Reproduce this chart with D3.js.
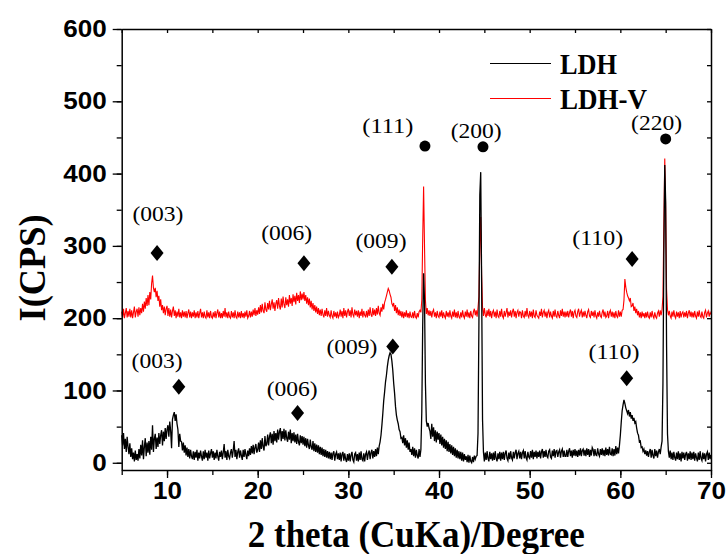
<!DOCTYPE html>
<html>
<head>
<meta charset="utf-8">
<script src="https://cdn.jsdelivr.net/npm/d3@7/dist/d3.min.js"></script>
<style>
  body { margin: 0; background: #fff; }
  .tick text { font-family: "Liberation Sans", Arial, sans-serif; font-weight: bold; font-size: 24px; fill: #000; }
  .serif { font-family: "Liberation Serif", "Times New Roman", serif; fill: #000; }
</style>
</head>
<body>
<div id="chart"></div>
<script>

// 2 theta from 5 to 70 deg, one value every 0.1 deg (one row = one degree)
var thetaStart = 5, thetaStep = 0.1;

var ldh = [
  38,24,41,19,33,15,36,22,12,27,
  8,20,5,14,2,17,4,12,3,19,
  6,25,10,31,5,22,34,9,28,14,
  30,11,36,18,52,15,33,40,19,35,
  22,41,26,38,45,24,43,30,48,33,
  46,52,36,57,44,20,60,66,70,58,
  67,54,46,22,40,30,29,17,28,14,
  24,10,21,8,19,6,18,9,5,16,
  4,15,7,18,3,14,6,17,9,3,
  16,5,18,7,14,3,17,6,13,19,
  7,16,4,14,6,18,9,3,15,8,
  17,5,14,26,7,16,4,18,9,6,
  14,19,7,17,30,8,18,5,15,20,
  7,17,10,4,18,8,19,11,5,17,
  9,20,11,23,13,25,12,21,26,14,
  18,28,15,31,19,34,22,17,37,23,
  26,39,24,36,42,27,40,25,44,30,
  41,28,46,32,43,48,30,44,33,47,
  31,45,34,29,43,32,46,27,41,30,
  42,28,39,26,40,29,24,38,27,37,
  25,36,23,34,21,33,24,19,32,22,
  18,30,16,27,15,25,14,24,12,22,
  11,21,9,19,8,18,7,16,6,15,
  5,14,4,13,16,3,12,15,5,13,
  4,14,2,12,15,3,13,5,1,12,
  3,13,2,11,15,4,1,12,14,3,
  12,2,14,4,16,5,3,13,2,12,
  15,4,13,17,5,14,18,6,16,8,
  19,9,21,12,23,29,38,52,68,86,
  98,112,121,133,142,148,152,150,141,128,
  110,96,78,66,59,54,46,43,34,35,
  27,38,24,34,21,31,18,28,15,19,
  11,22,9,20,7,18,10,6,19,8,
  18,70,190,262,225,110,58,50,55,48,
  44,33,54,36,49,30,45,28,43,32,
  41,26,39,24,36,21,33,19,31,16,
  29,15,26,13,24,11,22,9,20,7,
  18,6,16,5,15,3,14,2,12,4,
  9,1,11,0,10,2,0,8,1,10,
  5,9,10,40,190,370,402,250,60,15,
  2,14,4,16,6,2,15,5,13,3,
  14,4,16,6,2,13,5,15,3,14,
  5,15,4,13,17,6,3,14,5,16,
  7,4,15,6,14,18,5,13,16,6,
  15,5,14,17,6,16,7,4,15,8,
  6,16,7,18,5,15,8,17,6,15,
  8,17,6,15,19,7,16,8,18,9,
  7,16,18,8,6,17,9,19,7,16,
  17,8,15,18,7,16,19,8,17,9,
  9,18,8,16,20,9,17,7,18,10,
  19,9,17,8,18,10,20,9,17,19,
  10,18,9,20,11,19,8,18,10,21,
  18,9,19,11,10,20,12,9,19,11,
  20,10,18,9,21,11,19,10,22,12,
  11,20,9,19,10,23,12,21,13,24,
  38,56,72,80,87,82,76,72,68,73,
  64,70,61,66,58,62,55,57,48,41,
  38,29,30,21,22,16,19,12,17,10,
  16,8,15,19,7,18,10,6,19,9,
  17,7,15,19,12,22,30,110,290,412,
  360,160,40,16,7,17,5,14,4,15,
  7,3,14,5,16,4,13,2,15,6,
  14,4,12,15,3,13,5,16,4,14,
  5,15,3,13,7,2,14,4,16,6,
  3,14,5,13,2,12,15,4,14,5,
  11
];

var ldhV = [
  209,201,213,200,207,214,201,210,202,213,
  201,211,200,208,216,201,209,213,202,215,
  204,214,207,220,209,223,213,228,217,232,
  218,236,226,248,259,242,236,242,229,238,
  224,231,216,226,211,218,207,216,204,213,
  217,203,214,202,212,201,210,216,203,211,
  200,209,202,213,201,208,200,211,202,209,
  201,210,200,207,212,201,209,200,208,202,
  211,200,208,201,210,200,207,213,201,208,
  200,209,202,200,211,201,208,200,210,202,
  200,208,201,210,200,207,212,201,209,200,
  207,200,210,202,214,201,208,200,209,202,
  200,210,201,208,200,211,202,200,209,201,
  208,200,210,201,207,200,209,202,211,200,
  203,210,201,209,202,212,204,214,203,211,
  205,215,206,218,208,220,210,207,222,212,
  209,221,212,224,211,219,226,213,222,210,
  220,225,213,228,217,212,227,215,230,219,
  214,229,218,226,216,232,220,228,217,233,
  222,231,219,235,224,232,221,237,225,234,
  226,236,224,232,220,229,218,227,215,224,
  212,221,210,218,208,216,206,214,204,212,
  203,213,205,201,211,203,214,202,210,204,
  201,211,203,200,210,202,208,200,209,201,
  204,212,202,210,200,214,203,211,201,209,
  213,203,211,201,215,205,202,212,204,210,
  202,211,200,209,203,213,201,210,204,202,
  210,201,212,203,215,205,202,214,204,212,
  203,214,205,217,207,204,215,209,220,212,
  222,226,231,236,241,238,233,229,220,217,
  221,210,218,207,215,204,212,203,210,201,
  209,200,208,202,211,201,207,200,209,202,
  201,208,200,210,202,200,207,201,209,211,
  208,225,310,382,300,225,206,214,204,211,
  203,210,201,209,212,202,208,200,210,203,
  201,209,202,211,200,208,203,200,210,202,
  208,201,211,203,200,209,202,212,201,208,
  200,210,202,200,208,201,211,203,200,209,
  202,212,201,208,200,210,203,201,209,213,
  204,211,202,214,230,300,340,260,215,203,
  214,205,201,211,203,213,202,210,200,208,
  211,202,209,200,212,203,201,210,202,213,
  203,200,210,202,208,214,201,209,203,211,
  201,209,213,202,210,200,208,211,202,209,
  208,200,211,203,201,210,202,214,204,201,
  210,202,209,200,212,203,201,211,204,202,
  200,209,203,213,201,208,211,202,209,200,
  208,211,201,209,203,200,210,202,212,203,
  201,210,204,200,211,203,213,202,209,201,
  209,202,210,201,208,212,202,210,200,208,
  211,203,201,209,213,202,208,211,201,209,
  202,210,204,200,209,212,203,201,210,203,
  209,201,211,203,200,208,202,210,203,201,
  208,212,202,209,201,203,210,200,208,211,
  202,209,201,208,200,210,203,201,211,202,
  209,202,211,212,225,254,243,236,231,228,
  224,228,216,217,221,210,216,207,213,204,
  210,201,208,200,209,202,207,200,208,201,
  209,202,200,208,201,210,203,200,208,202,
  200,207,210,202,211,204,212,230,330,421,
  350,240,212,204,210,203,200,209,202,211,
  203,200,209,202,208,200,210,201,207,209,
  201,208,202,210,200,207,211,202,209,201,
  208,201,210,203,200,209,202,211,203,201,
  209,202,200,208,211,201,207,210,202,208,
  205
];

var xTicks = [10, 20, 30, 40, 50, 60, 70];
var yTicks = [0, 100, 200, 300, 400, 500, 600];
var seriesNames = ["LDH", "LDH-V"];
var seriesColors = ["#000000", "#ff0000"];

// reflection labels: text, label position, marker position (theta, cps)
var peakLabels = [
  { text: "(003)", lx: 9.0,  ly: 345, mx: 8.9,  my: 290, mark: "diamond" },
  { text: "(006)", lx: 23.2, ly: 318, mx: 25.1, my: 276, mark: "diamond" },
  { text: "(009)", lx: 33.6, ly: 307, mx: 34.8, my: 271, mark: "diamond" },
  { text: "(003)", lx: 8.9,  ly: 141, mx: 11.3, my: 105, mark: "diamond" },
  { text: "(006)", lx: 23.8, ly: 103, mx: 24.4, my: 69,  mark: "diamond" },
  { text: "(009)", lx: 30.4, ly: 161, mx: 34.9, my: 161, mark: "diamond" },
  { text: "(111)", lx: 34.35, ly: 467, mx: 38.45, my: 438, mark: "circle" },
  { text: "(200)", lx: 44.1, ly: 460, mx: 44.85, my: 437, mark: "circle" },
  { text: "(220)", lx: 64.0, ly: 470, mx: 65.0, my: 448, mark: "circle" },
  { text: "(110)", lx: 57.5, ly: 312, mx: 61.3, my: 282, mark: "diamond" },
  { text: "(110)", lx: 59.3, ly: 154, mx: 60.7, my: 117, mark: "diamond" }
];

var width = 728, height = 554;
var plotLeft = 121.7, plotRight = 711, plotTop = 29, plotBottom = 470;

var svg = d3.select("#chart").append("svg")
  .attr("width", width)
  .attr("height", height);

var x = d3.scaleLinear().domain([5, 70]).range([plotLeft, plotRight]);
var y = d3.scaleLinear().domain([-10, 600]).range([plotBottom, plotTop]);

var line = d3.line()
  .x(function(d, i) { return x(thetaStart + i * thetaStep); })
  .y(function(d) { return y(d); });

// red first, black on top
svg.append("path").datum(ldhV)
  .attr("d", line)
  .attr("fill", "none")
  .attr("stroke", seriesColors[1])
  .attr("stroke-width", 1.1);
svg.append("path").datum(ldh)
  .attr("d", line)
  .attr("fill", "none")
  .attr("stroke", seriesColors[0])
  .attr("stroke-width", 1.3);

// minor ticks
var xMinor = d3.range(5, 71, 5);
var yMinor = d3.range(0, 601, 50);

svg.append("g")
  .attr("transform", "translate(0," + plotBottom + ")")
  .call(d3.axisBottom(x).tickValues(xMinor).tickSize(5).tickFormat(""))
  .call(function(g) { g.select(".domain").remove(); });
svg.append("g")
  .attr("transform", "translate(" + plotLeft + ",0)")
  .call(d3.axisLeft(y).tickValues(yMinor).tickSize(5).tickFormat(""))
  .call(function(g) { g.select(".domain").remove(); });

// top and right: inward ticks, no labels
svg.append("g")
  .attr("transform", "translate(0," + plotTop + ")")
  .call(d3.axisBottom(x).tickValues(xMinor).tickSize(4).tickFormat("").tickSizeOuter(0));
svg.append("g")
  .attr("transform", "translate(" + plotRight + ",0)")
  .call(d3.axisLeft(y).tickValues(yMinor).tickSize(4).tickFormat("").tickSizeOuter(0));

// main axes
var xAxis = svg.append("g")
  .attr("transform", "translate(0," + plotBottom + ")")
  .call(d3.axisBottom(x).tickValues(xTicks).tickSize(8).tickPadding(4).tickSizeOuter(0));
var yAxis = svg.append("g")
  .attr("transform", "translate(" + plotLeft + ",0)")
  .call(d3.axisLeft(y).tickValues(yTicks).tickSize(9).tickPadding(6).tickSizeOuter(0));

svg.selectAll(".domain").attr("stroke", "#000").attr("stroke-width", 1.5);
svg.selectAll(".tick line").attr("stroke", "#000").attr("stroke-width", 1.3);

[xAxis, yAxis].forEach(function(ax) {
  ax.selectAll(".tick text")
    .attr("textLength", function() { return 14.5 * this.textContent.length; })
    .attr("lengthAdjust", "spacingAndGlyphs");
});

// axis titles
svg.append("text")
  .attr("class", "serif")
  .attr("x", (plotLeft + plotRight) / 2)
  .attr("y", 547)
  .attr("text-anchor", "middle")
  .attr("font-size", 37)
  .attr("font-weight", "bold")
  .attr("textLength", 337)
  .attr("lengthAdjust", "spacingAndGlyphs")
  .text("2 theta (CuKa)/Degree");

svg.append("text")
  .attr("class", "serif")
  .attr("transform", "translate(45,268) rotate(-90)")
  .attr("text-anchor", "middle")
  .attr("font-size", 38)
  .attr("font-weight", "bold")
  .attr("textLength", 107)
  .attr("lengthAdjust", "spacingAndGlyphs")
  .text("I(CPS)");

// legend
var legendY = [63.5, 98.5];
var legendLen = [57, 87];
seriesNames.forEach(function(name, i) {
  svg.append("line")
    .attr("x1", 490).attr("x2", 551)
    .attr("y1", legendY[i]).attr("y2", legendY[i])
    .attr("stroke", seriesColors[i])
    .attr("stroke-width", 1.1);
  svg.append("text")
    .attr("class", "serif")
    .attr("x", 560)
    .attr("y", legendY[i] + 10)
    .attr("font-size", 29)
    .attr("font-weight", "bold")
    .attr("textLength", legendLen[i])
    .attr("lengthAdjust", "spacingAndGlyphs")
    .text(name);
});

// peak annotations
function diamond() { return "M0,-8L6.5,0L0,8L-6.5,0Z"; }

var ann = svg.append("g");
peakLabels.forEach(function(p) {
  ann.append("text")
    .attr("class", "serif")
    .attr("x", x(p.lx))
    .attr("y", y(p.ly))
    .attr("dy", "0.35em")
    .attr("text-anchor", "middle")
    .attr("font-size", 21)
    .attr("textLength", 51)
    .attr("lengthAdjust", "spacingAndGlyphs")
    .text(p.text);
  if (p.mark == "diamond") {
    ann.append("path")
      .attr("d", diamond())
      .attr("transform", "translate(" + x(p.mx) + "," + y(p.my) + ")")
      .attr("fill", "#000");
  } else {
    ann.append("circle")
      .attr("cx", x(p.mx))
      .attr("cy", y(p.my))
      .attr("r", 5.5)
      .attr("fill", "#000");
  }
});

</script>
</body>
</html>
